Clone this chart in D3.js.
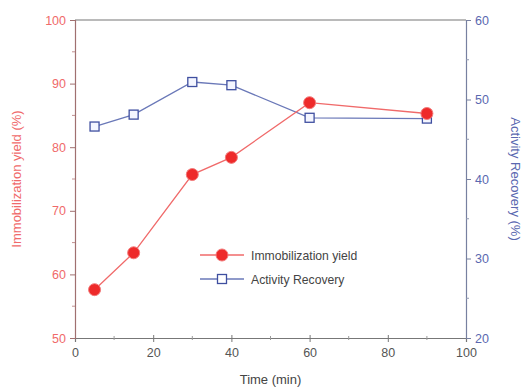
<!DOCTYPE html>
<html><head><meta charset="utf-8">
<script src="https://cdn.jsdelivr.net/npm/d3@7"></script>
<style>body{margin:0;background:#fff}svg{display:block}text{font-family:"Liberation Sans",Arial,sans-serif}</style>
</head><body>
<svg id="c" width="526" height="389"></svg>
<script>
const times = [5, 15, 30, 40, 60, 90];
const immobilizationYield = [57.6, 63.4, 75.7, 78.4, 87.0, 85.3];
const activityRecovery = [46.6, 48.1, 52.2, 51.8, 47.7, 47.6];
const xTicks = [0, 20, 40, 60, 80, 100];
const yLeftTicks = [50, 60, 70, 80, 90, 100];
const yRightTicks = [20, 30, 40, 50, 60];

const RED = "#ee2a2a", REDTXT = "#f06a6a", BLUE = "#3f4fa0", BLUETXT = "#5a68b0";
const svg = d3.select("#c");
const L = 75, R = 466, T = 20, B = 338;
const x = d3.scaleLinear().domain([0, 100]).range([L, R]);
const yl = d3.scaleLinear().domain([50, 100]).range([B, T]);
const yr = d3.scaleLinear().domain([20, 60]).range([B, T]);

// frame top
svg.append("line").attr("x1", L).attr("x2", R).attr("y1", T).attr("y2", T).attr("stroke", "#777").attr("stroke-width", 1.2);

// x axis
const gx = svg.append("g").attr("transform", `translate(0,${B})`)
  .call(d3.axisBottom(x).tickValues(xTicks).tickSize(4).tickPadding(6));
gx.selectAll(".tick line").attr("y1", -3);
gx.selectAll(".domain").attr("stroke", "#777").attr("stroke-width", 1.2);
gx.selectAll("line").attr("stroke", "#777");
gx.selectAll("text").attr("fill", "#555").attr("font-size", 12.5);
svg.append("g").selectAll("line").data(d3.range(10, 100, 20)).join("line")
  .attr("x1", d => x(d)).attr("x2", d => x(d)).attr("y1", B - 2).attr("y2", B + 2).attr("stroke", "#999");

// left axis
const gl = svg.append("g").attr("transform", `translate(${L},0)`)
  .call(d3.axisLeft(yl).tickValues(yLeftTicks).tickSize(5).tickPadding(4));
gl.selectAll(".domain").attr("stroke", "#a07070").attr("stroke-width", 1.2);
gl.selectAll("line").attr("stroke", "#a07070");
gl.selectAll("text").attr("fill", REDTXT).attr("font-size", 12.5);
svg.append("g").selectAll("line").data(d3.range(55, 100, 10)).join("line")
  .attr("x1", L - 3).attr("x2", L).attr("y1", d => yl(d)).attr("y2", d => yl(d)).attr("stroke", "#c09090");

// right axis
const gr = svg.append("g").attr("transform", `translate(${R},0)`)
  .call(d3.axisRight(yr).tickValues(yRightTicks).tickSize(5).tickPadding(4));
gr.selectAll(".domain").attr("stroke", "#7780a0").attr("stroke-width", 1.2);
gr.selectAll("line").attr("stroke", "#7780a0");
gr.selectAll("text").attr("fill", BLUETXT).attr("font-size", 12.5);
svg.append("g").selectAll("line").data(d3.range(25, 60, 10)).join("line")
  .attr("x1", R).attr("x2", R + 3).attr("y1", d => yr(d)).attr("y2", d => yr(d)).attr("stroke", "#9098b0");

// titles
svg.append("text").attr("x", (L + R) / 2).attr("y", 384).attr("text-anchor", "middle")
  .attr("font-size", 13).attr("fill", "#444").text("Time (min)");
svg.append("text").attr("transform", `translate(21,${(T + B) / 2}) rotate(-90)`).attr("text-anchor", "middle")
  .attr("font-size", 13).attr("fill", REDTXT).text("Immobilization yield (%)");
svg.append("text").attr("transform", `translate(511,${(T + B) / 2}) rotate(90)`).attr("text-anchor", "middle")
  .attr("font-size", 13).attr("fill", BLUETXT).text("Activity Recovery (%)");

// series
const ptsR = times.map((t, i) => [t, immobilizationYield[i]]);
const ptsB = times.map((t, i) => [t, activityRecovery[i]]);
svg.append("path").datum(ptsB).attr("fill", "none").attr("stroke", "#6a78b8").attr("stroke-width", 1.3)
  .attr("d", d3.line().x(d => x(d[0])).y(d => yr(d[1])));
svg.append("path").datum(ptsR).attr("fill", "none").attr("stroke", "#f06a6a").attr("stroke-width", 1.3)
  .attr("d", d3.line().x(d => x(d[0])).y(d => yl(d[1])));
svg.append("g").selectAll("rect").data(ptsB).join("rect")
  .attr("x", d => x(d[0]) - 4.5).attr("y", d => yr(d[1]) - 4.5).attr("width", 9).attr("height", 9)
  .attr("fill", "#f4f6ff").attr("stroke", BLUE).attr("stroke-width", 1.3);
svg.append("g").selectAll("circle").data(ptsR).join("circle")
  .attr("cx", d => x(d[0])).attr("cy", d => yl(d[1])).attr("r", 6)
  .attr("fill", RED).attr("stroke", "#f27a7a").attr("stroke-width", 1);

// legend
const lg = svg.append("g");
lg.append("line").attr("x1", 200).attr("x2", 244).attr("y1", 255).attr("y2", 255).attr("stroke", "#f06a6a").attr("stroke-width", 1.3);
lg.append("circle").attr("cx", 222).attr("cy", 255).attr("r", 6).attr("fill", RED).attr("stroke", "#f27a7a");
lg.append("text").attr("x", 251).attr("y", 259.5).attr("font-size", 12.2).attr("fill", "#444").text("Immobilization yield");
lg.append("line").attr("x1", 200).attr("x2", 244).attr("y1", 279).attr("y2", 279).attr("stroke", "#6a78b8").attr("stroke-width", 1.3);
lg.append("rect").attr("x", 217.5).attr("y", 274.5).attr("width", 9).attr("height", 9).attr("fill", "#fff").attr("stroke", BLUE).attr("stroke-width", 1.3);
lg.append("text").attr("x", 251).attr("y", 283.5).attr("font-size", 12.2).attr("fill", "#444").text("Activity Recovery");
</script>
</body></html>
